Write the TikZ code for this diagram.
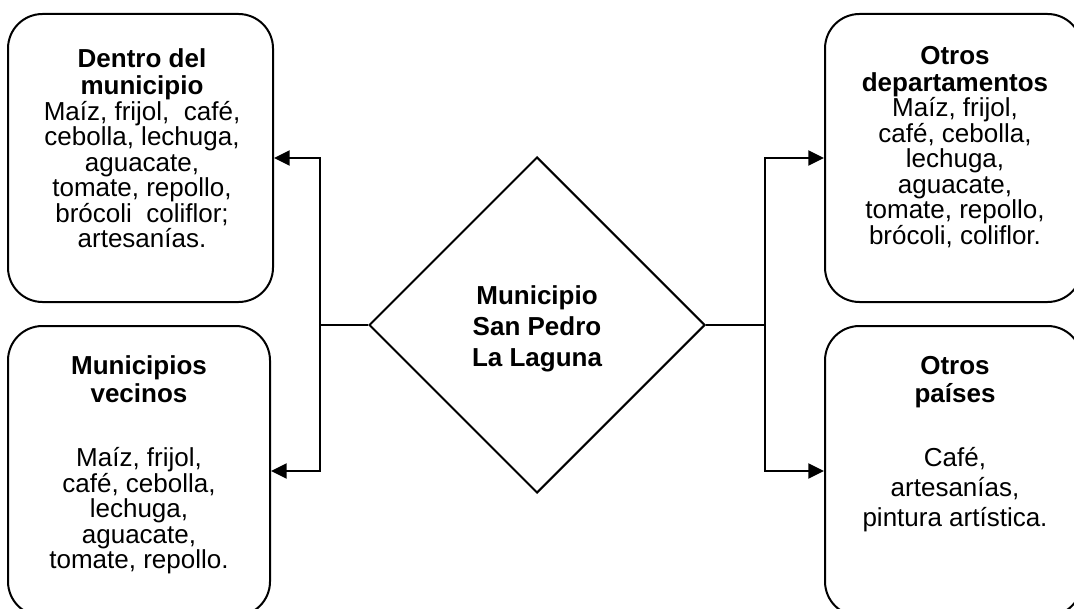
\documentclass[tikz,border=0pt]{standalone}
\usepackage{fontspec}
\setmainfont{Liberation Sans}
\usetikzlibrary{shapes.geometric,arrows.meta}

\begin{document}
\begin{tikzpicture}[x=.5pt,y=-.5pt,
	caja/.style={draw, line width=1pt, rounded corners=17.25pt, inner sep=0pt},
	texto/.style={anchor=north, align=center, inner sep=0pt, font=\fontsize{13}{12.75}\selectfont},
	flecha/.style={line width=1pt, -{Triangle[length=7.8pt,width=7.5pt]}}]
\path [use as bounding box, clip] (0,0) rectangle (1074,609);
\node [caja, minimum width=132.5pt, minimum height=144pt] (dentro) at (140.5,158) {};
\node [caja, minimum width=131pt, minimum height=145pt] (vecinos) at (139,471) {};
\node [caja, minimum width=128.5pt, minimum height=144pt] (otrosdep) at (953.5,158) {};
\node [caja, minimum width=128.5pt, minimum height=145pt] (paises) at (953.5,471) {};
\node [texto] (dentrotxt) at (142,48.5) {\textbf{Dentro del}\\[.75pt] \textbf{municipio}\\ Maíz, frijol,\ \ café,\\ cebolla, lechuga,\\ aguacate,\\ tomate, repollo,\\ brócoli\ \ coliflor;\\ artesanías.};
\node [texto] (vecinostxt) at (139,355.5) {\textbf{Municipios}\\[1.25pt] \textbf{vecinos}\\[19.25pt] Maíz, frijol,\\ café, cebolla,\\ lechuga,\\ aguacate,\\ tomate, repollo.};
\node [texto] (otrosdeptxt) at (955,45.5) {\textbf{Otros}\\[.75pt] \textbf{departamentos}\\ Maíz, frijol,\\ café, cebolla,\\ lechuga,\\ aguacate,\\ tomate, repollo,\\ brócoli, coliflor.};
\node [texto] (paisestxt) at (955,355.5) {\textbf{Otros}\\[1.25pt] \textbf{países}\\[19.25pt] Café,\\[2.25pt] artesanías,\\[2.25pt] pintura artística.};
\node [draw, diamond, line width=1pt, minimum width=168pt, minimum height=168pt, inner sep=0pt, align=center, font=\fontsize{13}{12.75}\selectfont\bfseries] (mun) at (537,325) {\rule{0pt}{12.8pt}Municipio\\[2.75pt] San Pedro\\[2.75pt] La Laguna};
\coordinate (lj) at (320,325);
\coordinate (rj) at (765,325);
\draw [line width=1pt] (mun.west) -- (lj) (mun.east) -- (rj);
\foreach \c in {dentro,vecinos}
	\draw [flecha] (lj) |- (\c.east);
\foreach \c in {otrosdep,paises}
	\draw [flecha] (rj) |- (\c.west);
\end{tikzpicture}
\end{document}
